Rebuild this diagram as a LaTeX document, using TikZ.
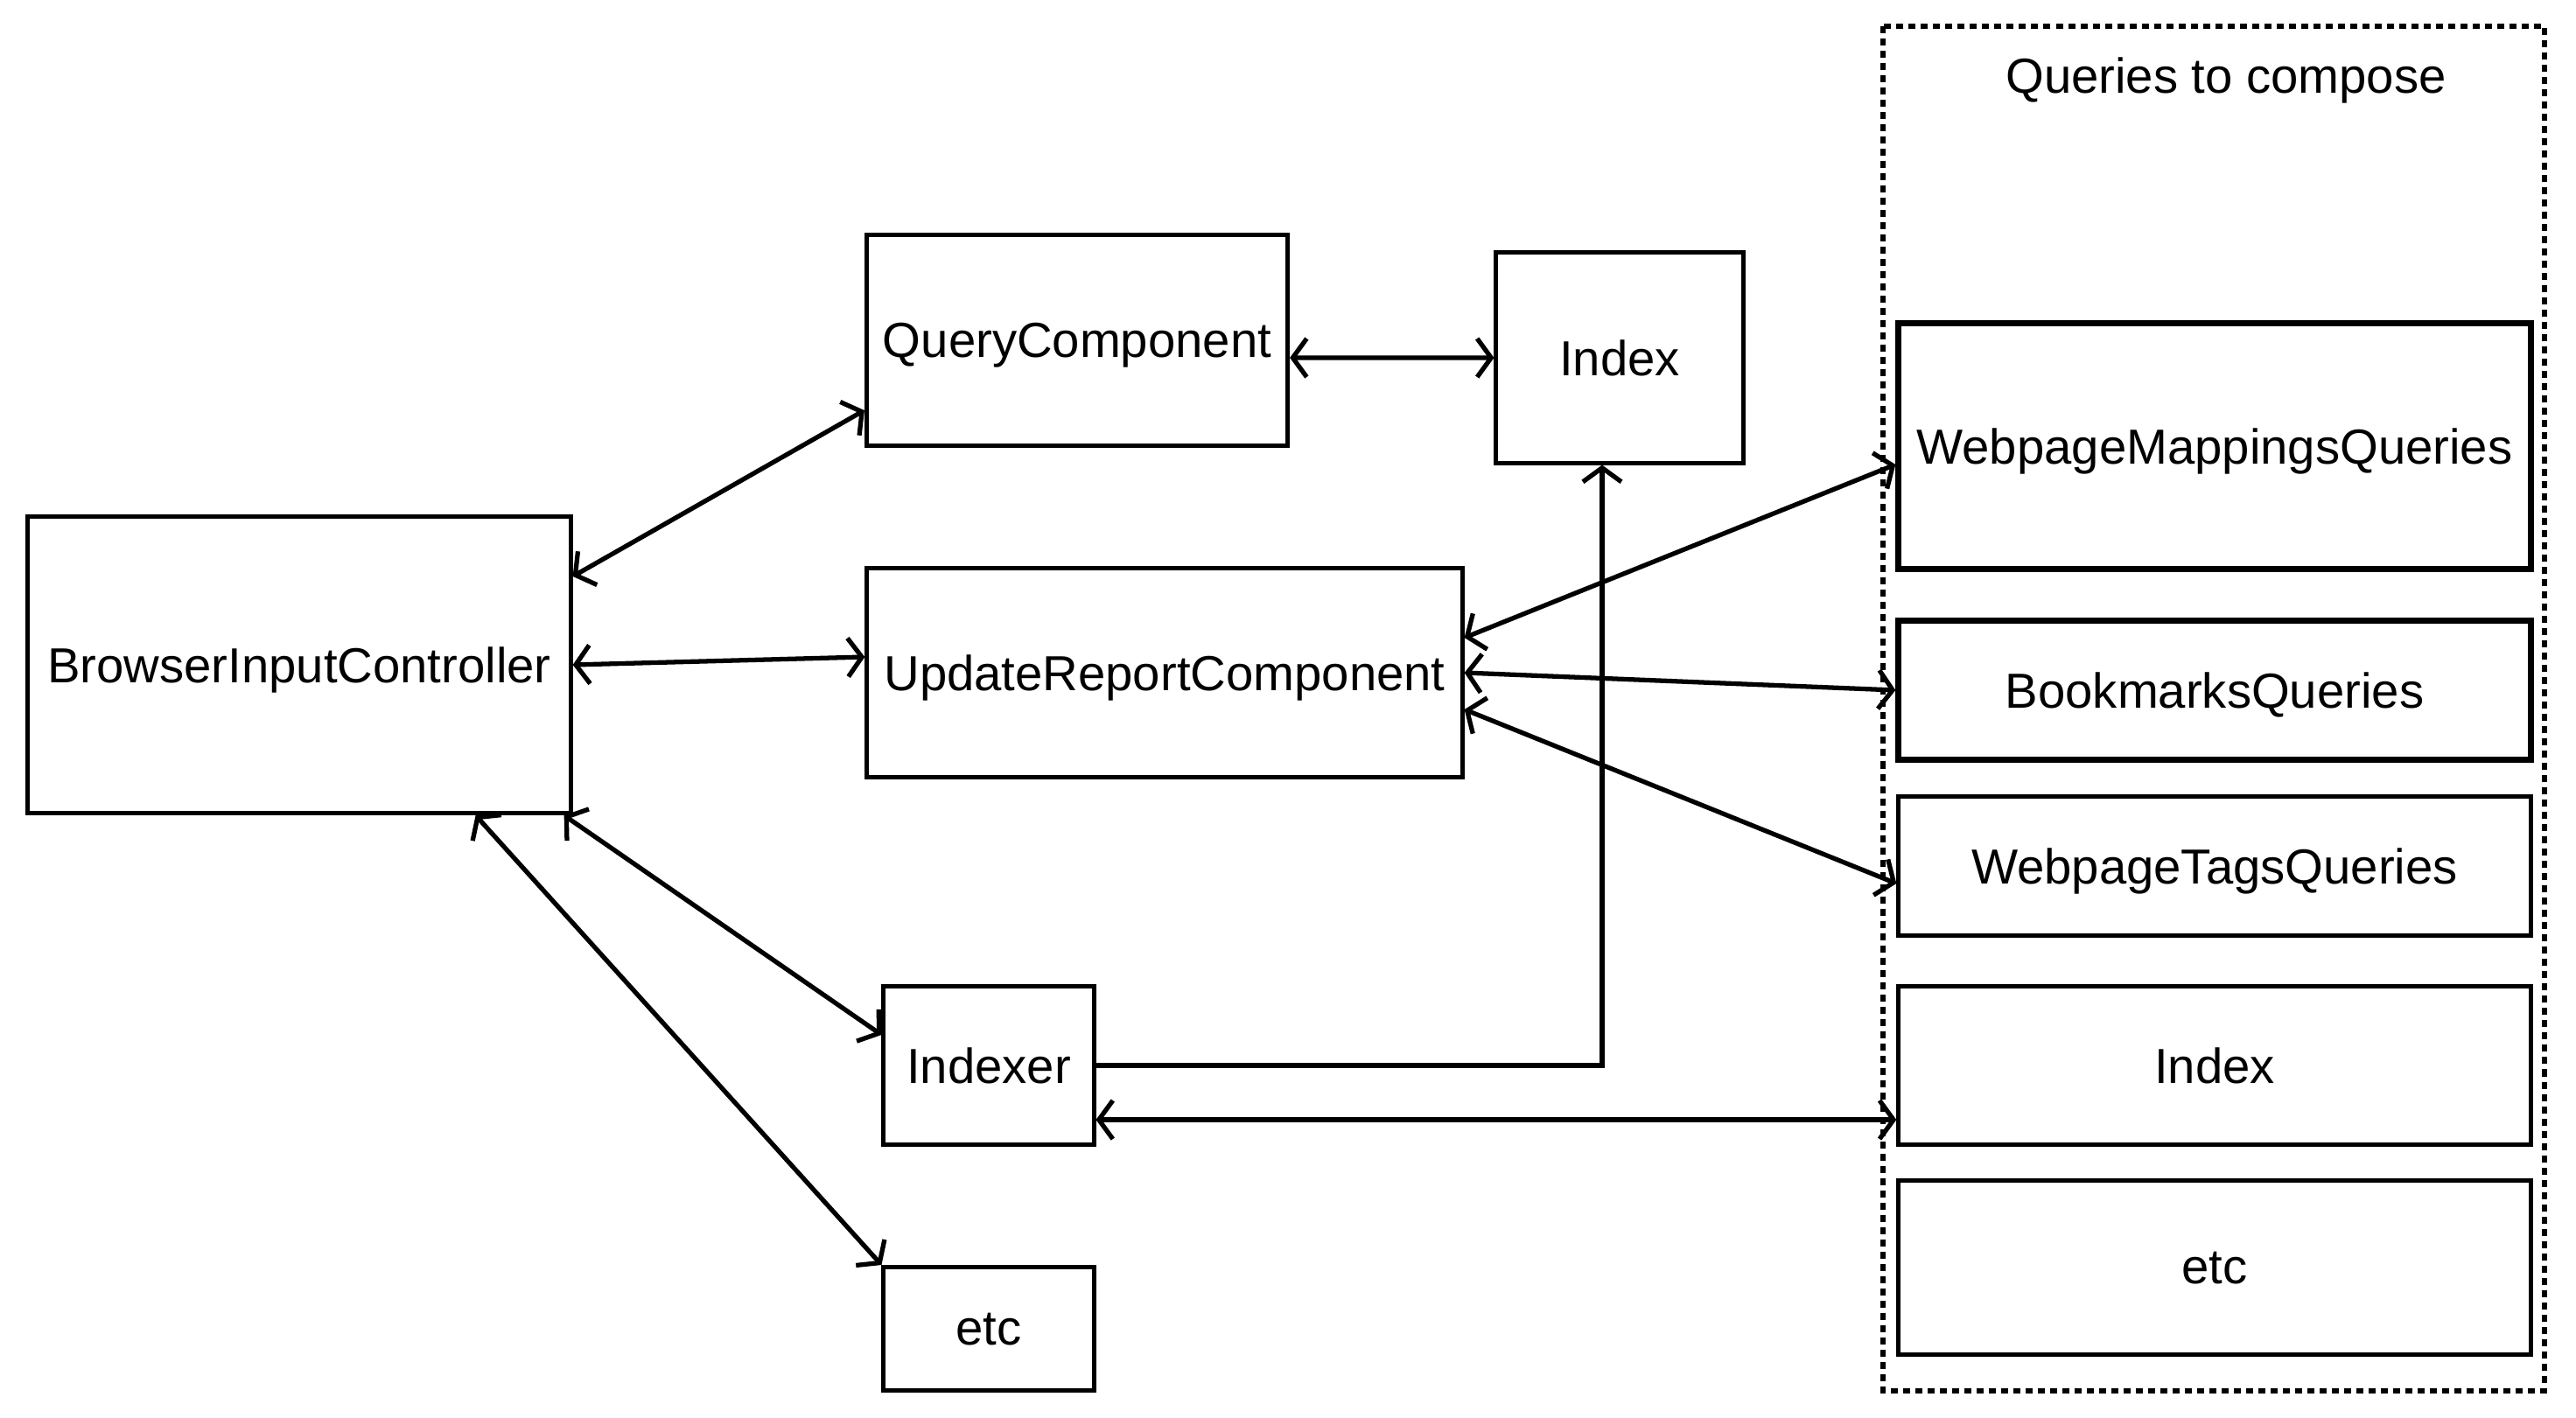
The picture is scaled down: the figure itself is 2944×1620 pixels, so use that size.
\documentclass[tikz,border=0pt]{standalone}
\usepackage{fontspec}
\setmainfont{Liberation Sans}
\usetikzlibrary{positioning,arrows.meta}

\tikzset{
  comp/.style={draw, line width=1.4pt, inner sep=0pt, text depth=0pt, font=\fontsize{16}{19}\selectfont},
  query/.style={comp, minimum width=7.22cm},
  strong/.style={line width=2pt},
  link/.style={line width=1.5pt, >={Straight Barb[length=1.6mm,width=4.4mm]}},
  group/.style={line width=1.6pt, dash pattern=on 0.08cm off 0.06cm},
}

\begin{document}
\begin{tikzpicture}[x=0.01cm, y=-0.01cm]
\useasboundingbox (0,0) rectangle (2944,1620);

% left side
\node(bic)     [comp, minimum width=6.2cm, minimum height=3.39cm] at (342,760) {BrowserInputController};
\node(qc)      [comp, minimum width=4.81cm, minimum height=2.41cm] at (1231,389) {QueryComponent};
\node(idx)     [comp, minimum width=2.82cm, minimum height=2.4cm] at (1851,409) {Index};
\node(urc)     [comp, minimum width=6.8cm, minimum height=2.38cm] at (1331,769) {UpdateReportComponent};
\node(indexer) [comp, minimum width=2.4cm, minimum height=1.81cm] at (1130,1218) {Indexer};
\node(etc)     [comp, minimum width=2.4cm, minimum height=1.41cm] at (1130,1519) {etc};

% queries to compose
\draw[group] (2152,30) rectangle (2908,1590);
\node(title) at (2544,92) [font=\fontsize{16}{19}\selectfont] {Queries to compose};
\node(wmq)  [query, strong, minimum height=2.8cm] at (2531,510) {WebpageMappingsQueries};
\node(bq)   [query, strong, minimum height=1.59cm] at (2531,789) {BookmarksQueries};
\node(wtq)  [query, minimum height=1.59cm] at (2531,990) {WebpageTagsQueries};
\node(idx2) [query, minimum height=1.81cm] at (2531,1218) {Index};
\node(etc2) [query, minimum height=1.99cm] at (2531,1449) {etc};

\draw[link,<->] ([yshift=1.01cm]bic.east) -- ([yshift=-0.8cm]qc.west);
\draw[link,<->] (bic.east) -- ([yshift=0.18cm]urc.west);
\draw[link,<->] ([xshift=-0.1cm]bic.south east) -- ([yshift=0.35cm]indexer.west);
\draw[link,<->] ([xshift=-1.11cm]bic.south east) -- (etc.north west);
\draw[link,<->] ([yshift=-0.2cm]qc.east) -- (idx.west);
\draw[link,->] (indexer.east) -| ([xshift=-0.2cm]idx.south);
\draw[link,<->] ([yshift=-0.62cm]indexer.east) -- ([yshift=-0.62cm]idx2.west);
\draw[link,<->] ([yshift=0.4cm]urc.east) -- ([yshift=-0.21cm]wmq.west);
\draw[link,<->] (urc.east) -- (bq.west);
\draw[link,<->] ([yshift=-0.42cm]urc.east) -- ([yshift=-0.2cm]wtq.west);
\end{tikzpicture}
\end{document}
